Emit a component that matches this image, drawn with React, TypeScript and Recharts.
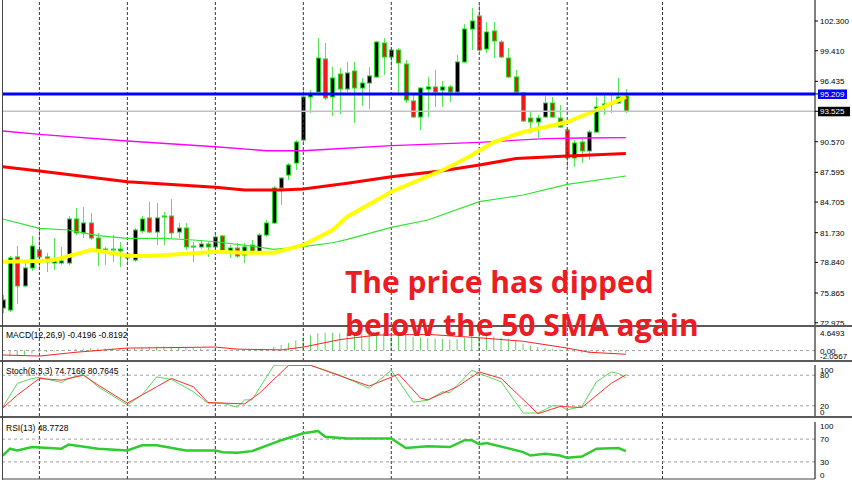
import React from 'react'
import { ComposedChart, Bar, Line, XAxis, YAxis, ReferenceLine } from 'recharts'

// candles, oldest first
const opens = [
  74.4, 74.21, 79.37, 76.55, 78.3, 80.05, 79.37, 78.78, 78.78, 78.78,
  83.06, 81.7, 82.67, 81.21, 80.05, 80.05, 80.14, 79.66, 79.07, 81.89,
  83.16, 81.79, 83.25, 83.35, 81.79, 82.18, 80.34, 80.34, 80.63, 80.34,
  81.41, 79.75, 80.24, 79.56, 80.53, 79.75, 81.5, 82.67, 86.07, 87.33,
  88.5, 90.73, 94.92, 95.4, 98.61, 94.92, 97.15, 95.69, 97.44, 95.79,
  96.27, 96.86, 100.16, 98.8, 99.48, 98.12, 94.53, 92.97, 95.69, 95.89,
  95.59, 95.89, 95.4, 98.32, 101.52, 102.79, 99.58, 101.33, 100.26, 98.7,
  96.86, 95.3, 92.87, 92.49, 92.97, 94.33, 92.87, 91.71, 88.99, 90.54,
  89.67, 91.51, 93.94, 94.24, 94.33, 95.01,
]
const highs = [
  75.67, 79.46, 80.43, 78.98, 81.41, 82.18, 79.75, 81.21, 80.34, 83.35,
  84.13, 84.23, 83.64, 81.7, 80.34, 81.5, 80.82, 79.85, 82.18, 83.35,
  84.71, 84.61, 83.74, 85.0, 82.67, 82.67, 80.82, 81.02, 80.82, 81.5,
  81.5, 80.53, 80.73, 80.73, 81.02, 81.7, 82.96, 86.27, 87.14, 88.5,
  90.73, 95.69, 95.59, 100.65, 100.16, 97.83, 97.73, 98.32, 98.32, 96.76,
  97.83, 100.36, 100.65, 99.77, 99.68, 98.51, 95.11, 95.85, 96.86, 97.54,
  96.47, 96.08, 98.99, 102.01, 103.56, 103.86, 102.2, 102.2, 100.45, 99.68,
  97.54, 95.4, 93.46, 93.17, 95.01, 94.92, 94.14, 91.9, 90.73, 90.83,
  91.71, 94.92, 95.21, 95.3, 96.76, 95.69,
]
const lows = [
  73.92, 74.02, 74.8, 76.45, 78.01, 78.3, 77.91, 78.1, 78.59, 78.59,
  81.5, 81.21, 81.02, 78.49, 78.59, 78.88, 78.39, 78.88, 78.88, 81.7,
  81.7, 80.53, 80.53, 81.21, 81.21, 80.05, 78.88, 80.14, 79.37, 79.85,
  79.66, 79.27, 79.27, 78.78, 79.66, 79.66, 81.31, 82.57, 84.42, 86.85,
  87.82, 90.54, 93.36, 95.3, 94.62, 93.07, 93.26, 95.4, 92.39, 94.04,
  93.75, 96.76, 97.05, 97.83, 95.11, 94.33, 92.87, 91.7, 92.97, 93.94,
  93.94, 94.43, 95.3, 98.22, 99.48, 99.29, 99.19, 98.7, 98.7, 96.76,
  95.3, 92.49, 91.41, 90.93, 92.87, 92.87, 91.9, 88.01, 88.11, 88.5,
  88.79, 91.41, 93.17, 93.36, 94.24, 93.36,
]
const closes = [
  75.2, 79.27, 76.55, 78.3, 80.43, 79.37, 78.88, 79.07, 78.98, 83.06,
  81.7, 82.67, 81.21, 79.95, 80.14, 80.14, 79.95, 79.27, 81.99, 83.06,
  81.79, 83.16, 83.35, 81.7, 82.18, 80.34, 80.43, 80.63, 80.34, 81.31,
  79.75, 80.24, 79.46, 80.34, 79.75, 81.5, 82.67, 86.07, 87.04, 88.31,
  90.54, 94.92, 95.21, 98.7, 94.82, 96.76, 95.69, 97.25, 95.79, 96.27,
  96.96, 100.26, 98.8, 99.48, 98.22, 94.62, 92.97, 95.79, 95.89, 95.4,
  95.89, 95.4, 98.32, 101.52, 102.3, 99.48, 101.23, 100.36, 98.8, 96.86,
  95.4, 92.58, 92.49, 92.87, 94.33, 92.97, 92.0, 88.99, 90.44, 89.67,
  91.51, 93.94, 94.24, 94.33, 94.92, 93.525,
]

// moving averages, read at the bars where they could be read
const magentaAt = [0, 5, 17, 29, 36, 41, 45, 53, 65, 74, 79, 85]
const magentaMa = [91.61, 91.29, 90.64, 90.08, 89.69, 89.69, 89.86, 90.18, 90.51, 90.87, 90.93, 90.96]
const redAt = [0, 5, 17, 29, 33, 38, 41, 47, 53, 60, 65, 70, 77, 85]
const redMa = [88.14, 87.72, 86.68, 86.14, 85.88, 85.88, 85.97, 86.53, 87.17, 87.75, 88.31, 88.93, 89.18, 89.42]
const greenAt = [0, 5, 9, 13, 17, 22, 26, 29, 34, 37, 41, 45, 47, 53, 58, 65, 71, 77, 85]
const greenMa = [83.06, 82.15, 81.99, 81.44, 81.18, 81.18, 81.02, 80.85, 80.43, 80.11, 80.37, 80.75, 81.08, 82.25, 82.96, 84.74, 85.39, 86.43, 87.24]
const yellowAt = [0, 5, 7, 9, 12, 13, 17, 20, 24, 29, 33, 37, 41, 45, 47, 53, 60, 62, 64, 67, 71, 77, 81, 85]
const yellowMa = [78.91, 78.98, 79.07, 79.46, 80.05, 79.98, 79.49, 79.46, 79.63, 79.88, 79.78, 79.78, 80.53, 81.99, 83.28, 85.71, 87.82, 88.5, 89.28, 90.54, 91.51, 92.48, 93.65, 94.92]

// MACD(12,26,9)
const macdHist = [
  -1.0, -1.1, -1.05, -0.9, -0.6, -0.35, -0.3, -0.2, -0.1, 0.2,
  0.35, 0.4, 0.45, 0.45, 0.4, 0.4, 0.35, 0.35, 0.45, 0.6,
  0.7, 0.75, 0.8, 0.75, 0.7, 0.6, 0.5, 0.4, 0.3, 0.2,
  0.1, 0.05, -0.05, 0.0, 0.0, 0.1, 0.3, 0.7, 1.1, 1.5,
  2.0, 2.7, 3.0, 3.4, 3.5, 3.5, 3.4, 3.4, 3.3, 3.2,
  3.2, 3.5, 3.5, 3.5, 3.4, 3.1, 2.7, 2.6, 2.5, 2.4,
  2.3, 2.2, 2.3, 2.6, 2.9, 2.9, 2.9, 2.8, 2.6, 2.3,
  1.9, 1.4, 1.0, 0.7, 0.5, 0.35, 0.2, -0.1, -0.3, -0.45,
  -0.5, -0.45, -0.4, -0.4, -0.35, -0.42,
]
const signalAt = [0, 5, 10, 17, 29, 32, 38, 41, 46, 51, 58, 65, 71, 77, 80, 85]
const signal = [-0.87, -1.08, -0.33, 0.49, 0.69, 0.28, 0.14, 0.69, 2.17, 3.05, 3.19, 2.52, 1.83, 0.49, -0.33, -0.73]

// Stoch(8,3,3)
const stochKAt = [0, 2, 4, 5, 8, 9, 11, 13, 17, 19, 21, 23, 26, 28, 30, 32, 33, 34, 37, 39, 42, 46, 50, 53, 56, 58, 60, 61, 64, 65, 68, 71, 73, 75, 76, 77, 79, 81, 83, 84, 85]
const stochK = [17.4, 64, 73.6, 75.6, 65.9, 73.6, 82, 57.4, 21.9, 41.3, 76.7, 71.7, 47.7, 25.2, 25.2, 17.4, 31.6, 31.6, 99.4, 100, 99.4, 80, 54.3, 89.7, 27, 31, 47.7, 45.7, 89.7, 83.3, 67, 5.8, 5.8, 20, 20, 12.2, 18.6, 67, 86.4, 83.3, 74.7]
const stochDAt = [0, 2, 5, 8, 11, 13, 17, 21, 23, 26, 28, 33, 35, 39, 42, 47, 50, 54, 57, 58, 62, 65, 68, 73, 76, 79, 83, 85]
const stochD = [15.5, 41.3, 73.6, 70.3, 80, 60.7, 25.2, 57.4, 73.6, 57.4, 26.4, 23.8, 44.6, 99.4, 99.4, 73.6, 58.7, 82, 34.9, 31.6, 57.4, 86.4, 73.6, 4.5, 18.6, 16.7, 64, 80.8]

// RSI(13)
const rsiAt = [0, 1, 2, 4, 8, 9, 13, 17, 19, 21, 25, 29, 30, 32, 34, 38, 41, 43, 44, 47, 53, 55, 58, 61, 63, 64, 65, 66, 71, 72, 74, 76, 77, 79, 81, 84, 85]
const rsi = [41.2, 53.2, 50.2, 56.1, 53.2, 60.4, 53.2, 50.2, 59.1, 59.1, 50.2, 50.2, 47.1, 46.1, 48.9, 68.1, 80.1, 84.2, 74, 71.1, 71.1, 54.3, 57.3, 56.1, 68.1, 68.1, 60.9, 63.3, 47.1, 41.2, 44.3, 41.2, 37.1, 39.4, 53.2, 54.3, 48.8]

const priceTicks = [102.3, 99.41, 96.435, 95.209, 93.525, 90.57, 87.595, 84.705, 81.73, 78.84, 75.865, 72.975]
const resistance = 95.209
const lastPrice = 93.525
const dayStarts = [5, 17, 29, 41, 53, 65, 77, 90]
const timeTicks = [0, 8, 16, 24, 32, 40, 48, 56, 64, 72, 80]

const W = 852
const AXIS_W = 37
const X_DOMAIN = [-0.1, 110.8]
const FONT = '"Liberation Sans", Arial, sans-serif'

const lookup = (at: number[], vals: number[]) => {
  const m: Record<number, number> = {}
  at.forEach((k, j) => { m[k] = vals[j] })
  return (i: number) => (m[i] === undefined ? null : m[i])
}
const mag = lookup(magentaAt, magentaMa)
const red = lookup(redAt, redMa)
const grn = lookup(greenAt, greenMa)
const yel = lookup(yellowAt, yellowMa)
const sig = lookup(signalAt, signal)
const sk = lookup(stochKAt, stochK)
const sd = lookup(stochDAt, stochD)
const rs = lookup(rsiAt, rsi)

const rows = opens.map((o, i) => ({
  i, o, h: highs[i], l: lows[i], c: closes[i],
  magenta: mag(i), red: red(i), green: grn(i), yellow: yel(i),
  hist: macdHist[i], signal: sig(i), k: sk(i), d: sd(i), rsi: rs(i),
}))

const Candle = (props: any) => {
  const { x, y, width, height, payload } = props
  const { o, h, l, c } = payload
  const cx = Math.round(x + width / 2) + 0.5
  const k = height / (h - l || 1)
  const top = y + (h - Math.max(o, c)) * k
  const bot = y + (h - Math.min(o, c)) * k
  return (
    <g>
      <line x1={cx} x2={cx} y1={y} y2={y + height} stroke="#55e655" strokeWidth={1} />
      <rect
        x={cx - 2} y={top} width={4} height={Math.max(bot - top, 1)}
        fill={c >= o ? '#000000' : '#f01818'} stroke="#1edc1e" strokeWidth={1}
      />
    </g>
  )
}

const PriceTick = ({ x, y, payload }: any) => {
  const v = payload.value
  const txt = v.toFixed(3)
  if (v === resistance || v === lastPrice) {
    return (
      <g>
        <rect x={x - 2} y={y - 4.5} width={v === lastPrice ? 32 : 29} height={9.5} fill={v === lastPrice ? '#000' : '#0000ff'} />
        <text x={x} y={y + 3} fill="#fff" fontSize={8} fontFamily={FONT}>{txt}</text>
      </g>
    )
  }
  return <text x={x} y={y + 3} fill="#000" fontSize={8} fontFamily={FONT}>{txt}</text>
}

const makeTick = (shift: Record<string, number>, fmt: (v: number) => string) => ({ x, y, payload }: any) => (
  <text x={x} y={y + 3 + (shift[String(payload.value)] || 0)} fill="#000" fontSize={8} fontFamily={FONT}>
    {fmt(payload.value)}
  </text>
)
const MacdTick = makeTick({ '4.6493': 6, '-2.0567': -5 }, (v) => (v === 0 ? '0.00' : v.toFixed(4)))
const StochTick = makeTick({ '100': 4.5, '0': -4.5 }, (v) => String(v))
const RsiTick = makeTick({ '100': 4, '0': -4 }, (v) => String(v))

const gridLines = () =>
  dayStarts.map((d) => (
    <ReferenceLine key={'g' + d} x={d} stroke="#333" strokeDasharray="3 2" strokeWidth={1} />
  ))

const Panel = ({ top, height, margin, children }: any) => (
  <div style={{ position: 'absolute', left: 0, top }}>
    <ComposedChart width={W} height={height} data={rows} margin={margin}>
      {children}
    </ComposedChart>
  </div>
)

const yAxisCommon = {
  orientation: 'right' as const,
  width: AXIS_W,
  allowDataOverflow: true,
  axisLine: { stroke: '#000' },
  tickLine: { stroke: '#000' },
  tickSize: 3,
  tickMargin: 2,
  interval: 0 as const,
}

const label = (top: number, text: string) => (
  <div style={{ position: 'absolute', left: 6, top, fontFamily: FONT, fontSize: 8.5, lineHeight: '10px', color: '#000', whiteSpace: 'nowrap' }}>
    {text}
  </div>
)

const hline = (top: number, h = 2, color = '#5a5a5a') => (
  <div style={{ position: 'absolute', left: 0, top, width: W, height: h, background: color }} />
)

export default function App() {
  return (
    <div style={{ position: 'fixed', left: 0, top: 0, width: W, height: 485, background: '#fff', overflow: 'hidden' }}>
      {/* price panel */}
      <Panel top={0} height={325} margin={{ top: 0, right: 0, bottom: 0, left: 2 }}>
        <XAxis dataKey="i" type="number" domain={X_DOMAIN} allowDataOverflow hide />
        <YAxis {...yAxisCommon} domain={[72.757, 104.341]} ticks={priceTicks} tick={<PriceTick />} />
        {gridLines()}
        <Line dataKey="magenta" stroke="#ff00ff" strokeWidth={1.3} dot={false} connectNulls isAnimationActive={false} />
        <Line dataKey="green" stroke="#2ee62e" strokeWidth={1.2} dot={false} connectNulls isAnimationActive={false} />
        <Line dataKey="red" stroke="#ff0000" strokeWidth={3} dot={false} connectNulls isAnimationActive={false} />
        <Line dataKey="yellow" stroke="#ffff00" strokeWidth={4} dot={false} connectNulls isAnimationActive={false} />
        <ReferenceLine y={lastPrice} stroke="#c0c0c8" strokeWidth={1.5} />
        <Bar dataKey={(d: any) => [d.l, d.h]} barSize={5} shape={<Candle />} isAnimationActive={false} />
        <ReferenceLine y={resistance} stroke="#0000ff" strokeWidth={3} />
      </Panel>

      {/* MACD */}
      <Panel top={327} height={34} margin={{ top: 0, right: 0, bottom: 0, left: 2 }}>
        <XAxis dataKey="i" type="number" domain={X_DOMAIN} allowDataOverflow hide />
        <YAxis {...yAxisCommon} tickLine={false} domain={[-2.0567, 4.6493]} ticks={[4.6493, 0, -2.0567]} tick={<MacdTick />} />
        {gridLines()}
        <ReferenceLine y={0} stroke="#a0a0a0" strokeDasharray="3 3" />
        <Bar dataKey="hist" barSize={1} fill="#5cd65c" isAnimationActive={false} />
        <Line dataKey="signal" stroke="#ff2020" strokeWidth={1} dot={false} connectNulls isAnimationActive={false} />
      </Panel>

      {/* Stochastic */}
      <Panel top={362} height={55} margin={{ top: 3, right: 0, bottom: 1, left: 2 }}>
        <XAxis dataKey="i" type="number" domain={X_DOMAIN} allowDataOverflow hide />
        <YAxis {...yAxisCommon} tickLine={false} domain={[0, 100]} ticks={[100, 80, 20, 0]} tick={<StochTick />} />
        {gridLines()}
        <ReferenceLine y={80} stroke="#a0a0a0" strokeDasharray="3 3" />
        <ReferenceLine y={20} stroke="#a0a0a0" strokeDasharray="3 3" />
        <Line dataKey="k" stroke="#5ad85a" strokeWidth={1} dot={false} connectNulls isAnimationActive={false} />
        <Line dataKey="d" stroke="#ff3030" strokeWidth={1} dot={false} connectNulls isAnimationActive={false} />
      </Panel>

      {/* RSI */}
      <Panel top={418} height={67} margin={{ top: 4, right: 0, bottom: 0, left: 2 }}>
        <XAxis
          dataKey="i" type="number" domain={X_DOMAIN} allowDataOverflow ticks={timeTicks} interval={0}
          height={6} tick={false} tickSize={5} axisLine={{ stroke: '#444' }} tickLine={{ stroke: '#444' }}
        />
        <YAxis {...yAxisCommon} tickLine={false} domain={[0, 100]} ticks={[100, 70, 30, 0]} tick={<RsiTick />} />
        {gridLines()}
        <ReferenceLine y={70} stroke="#a0a0a0" strokeDasharray="3 3" />
        <ReferenceLine y={30} stroke="#a0a0a0" strokeDasharray="3 3" />
        <Line dataKey="rsi" stroke="#2ecc2e" strokeWidth={2.5} dot={false} connectNulls isAnimationActive={false} />
      </Panel>

      {/* frames */}
      {hline(325)}
      {hline(360)}
      {hline(416)}
      <div style={{ position: 'absolute', left: 2, top: 0, width: 1, height: 480, background: '#444' }} />

      {label(330, 'MACD(12,26,9) -0.4196 -0.8192')}
      {label(366, 'Stoch(8,3,3) 74.7166 80.7645')}
      {label(423, 'RSI(13) 48.7728')}

      <div
        style={{
          position: 'absolute', left: 345, top: 260, fontFamily: '"Open Sans", sans-serif', fontWeight: 700,
          fontSize: 30, lineHeight: '43px', color: '#ec1c24', whiteSpace: 'nowrap',
        }}
      >
        The price has dipped
        <br />
        below the 50 SMA again
      </div>
    </div>
  )
}
